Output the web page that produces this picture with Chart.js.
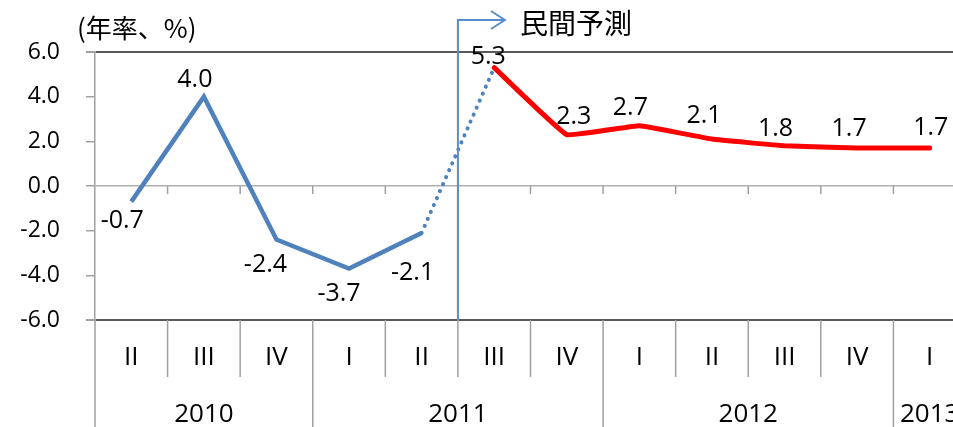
<!DOCTYPE html>
<html lang="ja">
<head>
<meta charset="UTF-8">
<title>GDP growth forecast</title>
<script src="https://cdn.jsdelivr.net/npm/chart.js"></script>
<style>
    body {
        margin: 0;
        background: #fff;
        overflow: hidden;
    }
    .chart-wrap {
        width: 970px;
        height: 427px;
    }
</style>
</head>
<body>
<div class="chart-wrap">
    <canvas id="gdpChart" width="970" height="427"></canvas>
</div>
<script>
    // categories
    const quarters = ['II', 'III', 'IV', 'I', 'II', 'III', 'IV', 'I', 'II', 'III', 'IV', 'I'];
    const years = ['2010', '2010', '2010', '2011', '2011', '2011', '2011', '2012', '2012', '2012', '2012', '2013'];

    // series (annualised %, q/q)
    const actual = [-0.7, 4.0, -2.4, -3.7, -2.1, null, null, null, null, null, null, null];
    const bridge = [null, null, null, null, -2.1, 5.3, null, null, null, null, null, null];
    const forecast = [null, null, null, null, null, 5.3, 2.3, 2.7, 2.1, 1.8, 1.7, 1.7];

    // y axis range
    const yMin = -6, yMax = 6, yStep = 2;

    const unitLabel = '(年率、%)';
    const forecastLabel = '民間予測';

    // label nudges (px) for each value label
    const actualLabelShift = [[-9, 19], [-9, -17], [-11, 25], [-10, 25], [-9, 40]];
    const forecastLabelShift = [[-6, -11], [7, -18], [-9, -18], [-8, -23], [-9, -17], [-8, -19], [1, -20]];

    const numFont = '"Open Sans", sans-serif';
    const jpFont = '"Noto Sans CJK JP", sans-serif';
    const blue = '#4F81BD';

    const decor = {
        id: 'decor',
        afterDraw(chart) {
            const ctx = chart.ctx;
            const x = chart.scales.x;
            const y = chart.scales.y;
            const area = chart.chartArea;
            const w = x.getPixelForValue(1) - x.getPixelForValue(0);
            const edge = i => x.getPixelForValue(i) - w / 2;
            const y0 = y.getPixelForValue(0);
            const bottom = area.bottom;
            ctx.save();

            // tick marks on zero line
            ctx.strokeStyle = '#a0a0a0';
            ctx.lineWidth = 1.5;
            for (let i = 1; i <= quarters.length; i++) {
                ctx.beginPath();
                ctx.moveTo(edge(i), y0);
                ctx.lineTo(edge(i), y0 + 8);
                ctx.stroke();
            }

            // category separators under the plot
            for (let i = 0; i <= quarters.length; i++) {
                const isYear = i === 0 || (i < years.length && years[i] !== years[i - 1]);
                ctx.beginPath();
                ctx.moveTo(edge(i), bottom);
                ctx.lineTo(edge(i), isYear ? chart.height : bottom + 57);
                ctx.stroke();
            }

            // quarter labels
            ctx.fillStyle = '#000';
            ctx.textAlign = 'center';
            ctx.textBaseline = 'middle';
            ctx.font = '26px ' + numFont;
            quarters.forEach((q, i) => ctx.fillText(q, x.getPixelForValue(i), bottom + 38));

            // year labels centred on their group
            let start = 0;
            for (let i = 1; i <= years.length; i++) {
                if (i === years.length || years[i] !== years[start]) {
                    const cx = (edge(start) + edge(i)) / 2;
                    ctx.fillText(years[start], cx, bottom + 95);
                    start = i;
                }
            }

            // value labels
            ctx.font = '25px ' + numFont;
            const drawLabels = (dsIndex, values, shifts) => {
                const meta = chart.getDatasetMeta(dsIndex);
                let k = 0;
                values.forEach((v, i) => {
                    if (v === null) return;
                    const p = meta.data[i];
                    const s = shifts[k++];
                    ctx.fillText(v.toFixed(1), p.x + s[0], p.y + s[1]);
                });
            };
            drawLabels(0, actual, actualLabelShift);
            drawLabels(2, forecast, forecastLabelShift);

            // forecast arrow
            const ax = edge(5);
            const topY = 20;
            ctx.strokeStyle = '#5A8DCB';
            ctx.lineWidth = 2;
            ctx.beginPath();
            ctx.moveTo(ax, bottom);
            ctx.lineTo(ax, topY);
            ctx.lineTo(ax + 47, topY);
            ctx.stroke();
            ctx.beginPath();
            ctx.moveTo(ax + 33, topY - 9);
            ctx.lineTo(ax + 47, topY);
            ctx.lineTo(ax + 33, topY + 9);
            ctx.stroke();

            ctx.fillStyle = '#000';
            ctx.textAlign = 'left';
            ctx.font = '28px ' + jpFont;
            ctx.fillText(forecastLabel, ax + 62, 23);

            ctx.font = '26px ' + jpFont;
            ctx.fillText(unitLabel, 77, 28);
            ctx.restore();
        }
    };

    new Chart(document.getElementById('gdpChart'), {
        type: 'line',
        data: {
            labels: quarters,
            datasets: [
                {
                    data: actual,
                    borderColor: blue,
                    borderWidth: 4.5,
                    borderJoinStyle: 'miter',
                    pointRadius: 0,
                    tension: 0
                },
                {
                    data: bridge,
                    borderColor: blue,
                    borderWidth: 4,
                    borderDash: [0.1, 7.5],
                    borderCapStyle: 'round',
                    pointRadius: 0,
                    tension: 0
                },
                {
                    data: forecast,
                    borderColor: '#FF0000',
                    borderWidth: 5,
                    borderJoinStyle: 'round',
                    borderCapStyle: 'round',
                    pointRadius: 0,
                    tension: 0.08
                }
            ]
        },
        options: {
            responsive: false,
            animation: false,
            layout: {
                padding: { top: 52, bottom: 107, left: 0, right: 4 }
            },
            plugins: {
                legend: { display: false },
                tooltip: { enabled: false }
            },
            scales: {
                x: {
                    display: false,
                    offset: true
                },
                y: {
                    min: yMin,
                    max: yMax,
                    afterFit(scale) { scale.width = 95; },
                    ticks: {
                        stepSize: yStep,
                        padding: 26,
                        color: '#000',
                        font: { family: numFont, size: 23 },
                        callback: v => v.toFixed(1)
                    },
                    border: { color: '#a0a0a0', width: 1.5 },
                    grid: {
                        tickLength: 9,
                        tickColor: '#a0a0a0',
                        color: c => {
                            const v = c.tick ? c.tick.value : null;
                            if (v === yMax || v === yMin) return '#595959';
                            if (v === 0) return '#b0b0b0';
                            return 'rgba(0,0,0,0)';
                        },
                        lineWidth: c => (c.tick && (c.tick.value === yMax || c.tick.value === yMin)) ? 2 : 1.5
                    }
                }
            }
        },
        plugins: [decor]
    });
</script>
</body>
</html>
